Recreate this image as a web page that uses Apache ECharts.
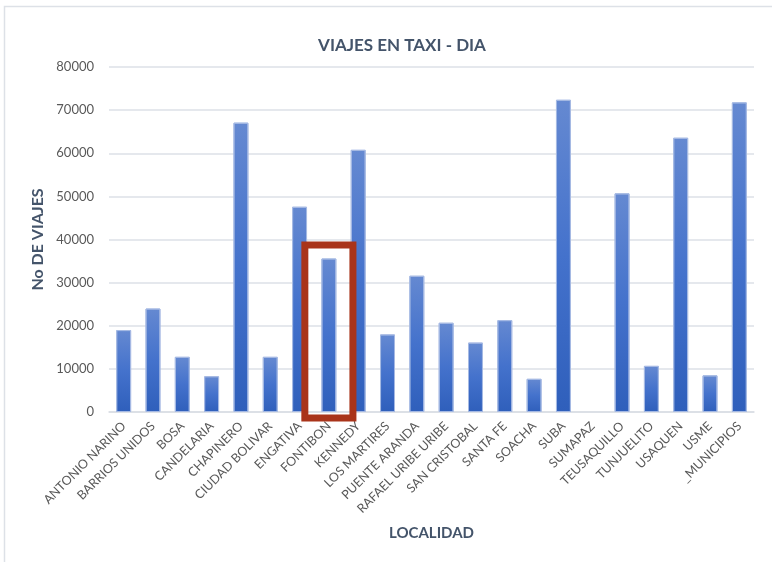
<!DOCTYPE html>
<html>
<head>
<meta charset="utf-8">
<script src="https://cdn.jsdelivr.net/npm/echarts@6/dist/echarts.min.js"></script>
<style>
  html, body { margin: 0; padding: 0; background: #fff; }
  #main { width: 772px; height: 562px; }
</style>
</head>
<body>
<div id="main"></div>
<script>
// localidades (eje X)
var localidades = ['ANTONIO NARINO', 'BARRIOS UNIDOS', 'BOSA', 'CANDELARIA', 'CHAPINERO',
  'CIUDAD BOLIVAR', 'ENGATIVA', 'FONTIBON', 'KENNEDY', 'LOS MARTIRES', 'PUENTE ARANDA',
  'RAFAEL URIBE URIBE', 'SAN CRISTOBAL', 'SANTA FE', 'SOACHA', 'SUBA', 'SUMAPAZ',
  'TEUSAQUILLO', 'TUNJUELITO', 'USAQUEN', 'USME', '_MUNICIPIOS'];

// viajes por dia
var viajes = [19000, 24000, 12800, 8300, 67100, 12800, 47600, 35600, 60800, 18000, 31600,
  20700, 16100, 21300, 7700, 72400, 0, 50700, 10700, 63600, 8500, 71800];

var yMin = 0, yMax = 80000, yStep = 10000;

// recuadro rojo de resaltado
var resaltado = 'FONTIBON';
var resaltadoTope = 38700;

var chart = echarts.init(document.getElementById('main'));
var fuente = 'Lato, "Liberation Sans", sans-serif';

// las barras en cero no llevan borde
var datos = viajes.map(function (v) {
  return v === 0 ? { value: v, itemStyle: { borderWidth: 0, opacity: 0 } } : v;
});

chart.setOption({
  backgroundColor: '#ffffff',
  animation: false,
  title: {
    text: 'VIAJES EN TAXI - DIA',
    left: 397,
    textAlign: 'center',
    top: 32,
    textStyle: { fontFamily: fuente, fontSize: 17, fontWeight: 'bold', color: '#44546A' }
  },
  grid: { left: 109, right: 18, top: 67, bottom: 150 },
  xAxis: {
    type: 'category',
    data: localidades,
    name: 'LOCALIDAD',
    nameLocation: 'middle',
    nameGap: 114,
    nameTextStyle: { fontFamily: fuente, fontSize: 15, fontWeight: 'bold', color: '#44546A' },
    axisLine: { lineStyle: { color: '#D9DDE3', width: 1.5 } },
    axisTick: { show: false },
    axisLabel: {
      rotate: 45, interval: 0, margin: 12,
      fontFamily: fuente, fontSize: 12.5, color: '#595959'
    }
  },
  yAxis: {
    type: 'value',
    min: yMin, max: yMax, interval: yStep,
    name: 'No DE VIAJES',
    nameLocation: 'middle',
    nameGap: 56,
    nameTextStyle: { fontFamily: fuente, fontSize: 16, fontWeight: 'bold', color: '#44546A' },
    axisLine: { show: false },
    axisTick: { show: false },
    axisLabel: {
      margin: 15, fontFamily: fuente, fontSize: 13, color: '#595959',
      formatter: function (v) { return String(v); }
    },
    splitLine: { lineStyle: { color: '#DDE1E7', width: 1.5 } }
  },
  series: [{
    type: 'bar',
    data: datos,
    barWidth: '51%',
    itemStyle: {
      color: {
        type: 'linear', x: 0, y: 0, x2: 0, y2: 1,
        colorStops: [
          { offset: 0, color: '#6589D1' },
          { offset: 0.5, color: '#4472CC' },
          { offset: 1, color: '#2F5FBB' }
        ]
      },
      borderColor: '#A5B9E3',
      borderWidth: 1
    }
  }]
});

// marco del area del grafico y recuadro de resaltado
var centro = chart.convertToPixel({ seriesIndex: 0 }, [resaltado, 0]);
var tope = chart.convertToPixel({ seriesIndex: 0 }, [resaltado, resaltadoTope]);
var paso = chart.convertToPixel({ seriesIndex: 0 }, [localidades[1], 0])[0] -
           chart.convertToPixel({ seriesIndex: 0 }, [localidades[0], 0])[0];
var medio = paso * 0.82;

chart.setOption({
  graphic: [
    {
      type: 'rect', silent: true,
      shape: { x: 4.5, y: 6.5, width: 900, height: 700 },
      style: { fill: null, stroke: '#DDE1E7', lineWidth: 1.5 }
    },
    {
      type: 'rect', silent: true, z: 100,
      shape: { x: centro[0] - medio, y: tope[1], width: medio * 2, height: centro[1] + 6 - tope[1] },
      style: { fill: null, stroke: '#A9341A', lineWidth: 7 }
    }
  ]
});
</script>
</body>
</html>
